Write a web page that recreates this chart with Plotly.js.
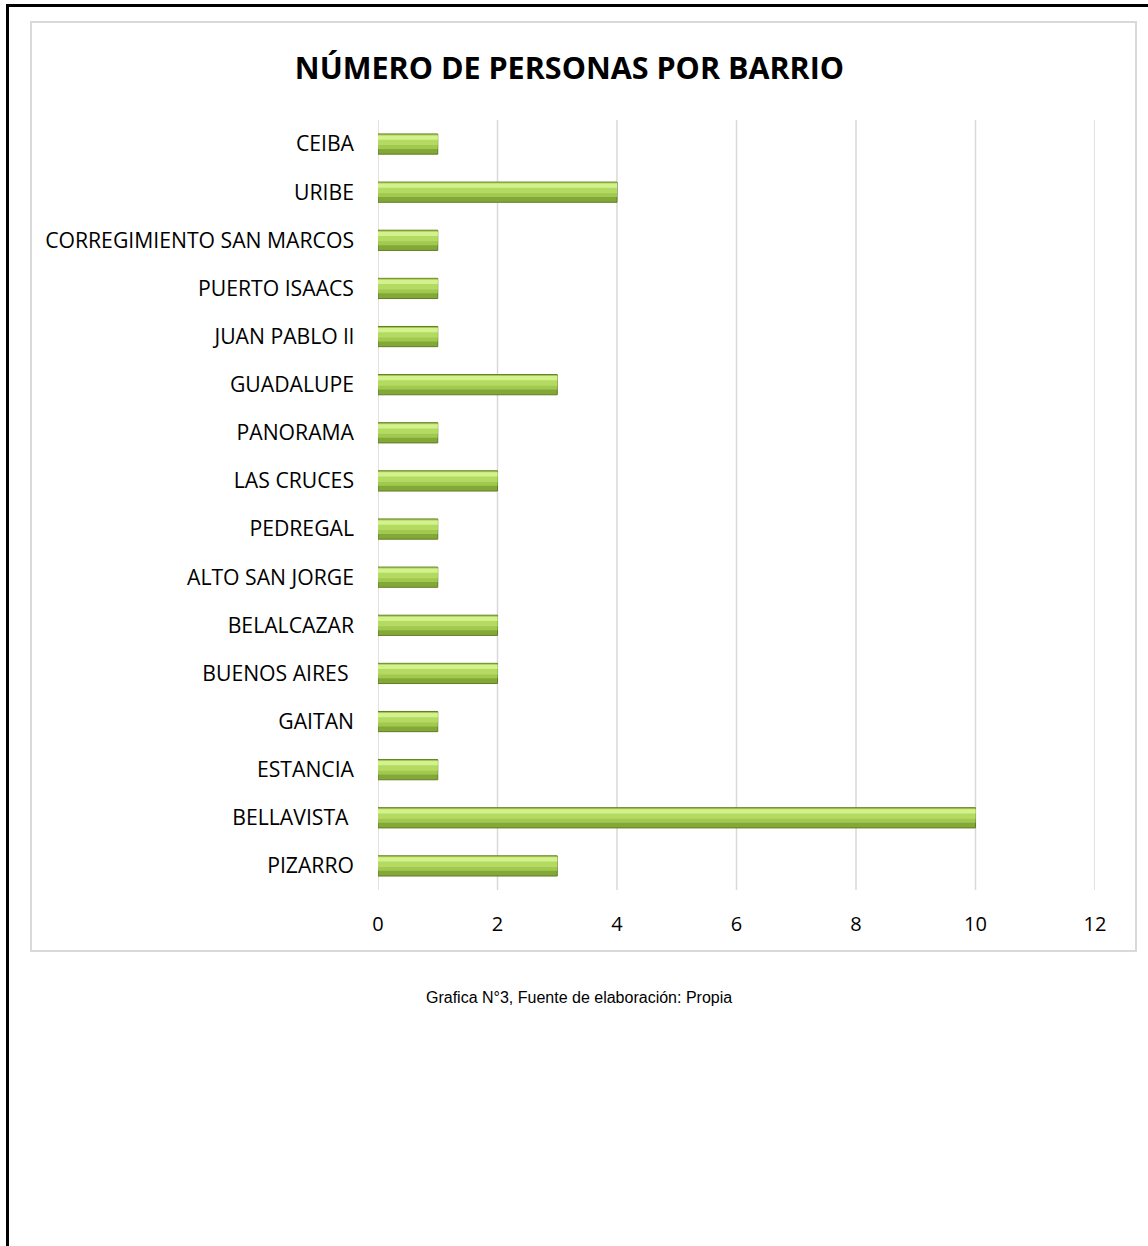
<!DOCTYPE html>
<html>
<head>
<meta charset="utf-8">
<script src="https://cdn.plot.ly/plotly-3.0.1.min.js"></script>
<style>
html,body{margin:0;padding:0;background:#fff;}
#chart{width:1148px;height:1246px;}
</style>
</head>
<body>
<div id="chart"></div>
<script>
var barrios = ["PIZARRO","BELLAVISTA\u00a0","ESTANCIA","GAITAN","BUENOS AIRES\u00a0","BELALCAZAR","ALTO SAN JORGE","PEDREGAL","LAS CRUCES","PANORAMA","GUADALUPE","JUAN PABLO ll","PUERTO ISAACS","CORREGIMIENTO SAN MARCOS","URIBE","CEIBA"];
var personas = [3,10,1,1,2,2,1,1,2,1,3,1,1,1,4,1];
var xTicks = [0,2,4,6,8,10,12];
var chartTitle = "NÚMERO DE PERSONAS POR BARRIO";
var caption = "Grafica N°3, Fuente de elaboración: Propia";

var W = 1148, H = 1246;
var L = 378, R = 1095, T = 120, B = 890;
function px(x){ return (x - L) / (R - L); }
function py(y){ return (B - y) / (B - T); }

var base = {
  type: "bar", orientation: "h", y: barrios, x: personas,
  width: 0.42, offset: -0.21,
  marker: {color: "#84a838", line: {color: "#5f7d24", width: 1}},
  hoverinfo: "x+y", showlegend: false
};
var mid = {
  type: "bar", orientation: "h", y: barrios, x: personas,
  width: 0.3, offset: -0.1,
  marker: {color: "#a2c94f", line: {width: 0}},
  hoverinfo: "skip", showlegend: false
};
var mid2 = {
  type: "bar", orientation: "h", y: barrios, x: personas,
  width: 0.2, offset: -0.02,
  marker: {color: "#b4da62", line: {width: 0}},
  hoverinfo: "skip", showlegend: false
};
var light = {
  type: "bar", orientation: "h", y: barrios, x: personas,
  width: 0.09, offset: 0.09,
  marker: {color: "#d3f28e", line: {width: 0}},
  hoverinfo: "skip", showlegend: false
};

var gridShapes = xTicks.map(function(v){
  return {type: "line", xref: "x", yref: "paper", x0: v, x1: v, y0: 0, y1: 1,
          line: {color: "#d9d9d9", width: 1.5}, layer: "below"};
});

var layout = {
  width: W, height: H,
  margin: {l: L, r: W - R, t: T, b: H - B},
  paper_bgcolor: "#ffffff", plot_bgcolor: "#ffffff",
  barmode: "overlay",
  font: {family: "'Open Sans', Lato, sans-serif", color: "#000"},
  title: {
    text: "<b>" + chartTitle + "</b>",
    font: {family: "'Open Sans', Lato, sans-serif", size: 30.5, color: "#000"},
    xref: "container", yref: "container",
    x: 569.5 / W, y: 1 - 68 / H, xanchor: "center", yanchor: "middle"
  },
  xaxis: {
    range: [0, 12], tickvals: xTicks, ticktext: xTicks.map(String),
    showgrid: false, zeroline: false, showline: false, ticks: "",
    tickfont: {size: 20, family: "'Open Sans', Lato, sans-serif"},
    ticklabelstandoff: 20, fixedrange: true
  },
  yaxis: {
    type: "category", range: [-0.5, barrios.length - 0.5],
    showgrid: false, zeroline: false, showline: false, ticks: "",
    tickfont: {size: 21.2, family: "'Open Sans', Lato, sans-serif"},
    ticklabelstandoff: 23, fixedrange: true
  },
  shapes: gridShapes.concat([
    {type: "rect", xref: "paper", yref: "paper",
     x0: px(31), x1: px(1136), y0: py(951), y1: py(22),
     line: {color: "#d9d9d9", width: 2}, fillcolor: "rgba(0,0,0,0)"},
    {type: "rect", xref: "paper", yref: "paper",
     x0: px(7.5), x1: px(1170), y0: py(1270), y1: py(5.5),
     line: {color: "#000", width: 3}, fillcolor: "rgba(0,0,0,0)"}
  ]),
  annotations: [
    {text: caption, xref: "paper", yref: "paper", x: px(579), y: py(997),
     xanchor: "center", yanchor: "middle", showarrow: false,
     font: {family: "'Liberation Sans', Arial, sans-serif", size: 16, color: "#000"}}
  ]
};

Plotly.newPlot("chart", [base, mid, mid2, light], layout, {displayModeBar: false, staticPlot: true});
</script>
</body>
</html>
